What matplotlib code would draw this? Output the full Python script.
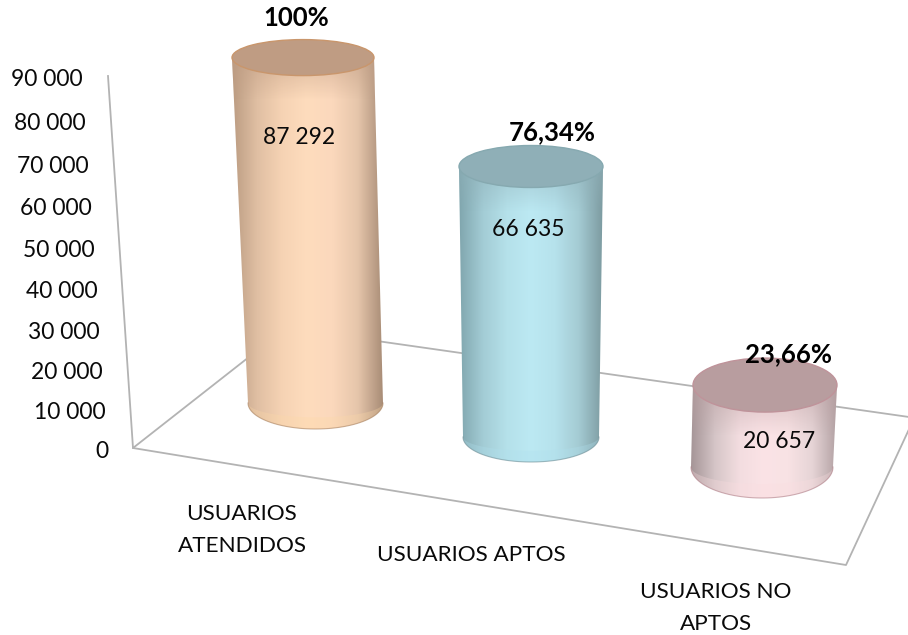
#!/usr/bin/env python3
"""3D style cylinder chart of attended users, drawn on a pixel sized axes."""

import numpy as np
import matplotlib
matplotlib.use("Agg")
import matplotlib.pyplot as plt
from matplotlib.colors import to_rgb
from matplotlib.patches import Ellipse, PathPatch, Polygon
from matplotlib.path import Path

plt.rcParams["font.family"] = ["Lato", "DejaVu Sans"]

# data
categories = ["USUARIOS\nATENDIDOS", "USUARIOS APTOS", "USUARIOS NO\nAPTOS"]
values = [87292, 66635, 20657]
value_labels = ["87 292", "66 635", "20 657"]
pct_labels = ["100%", "76,34%", "23,66%"]
y_ticks = [0, 10000, 20000, 30000, 40000, 50000, 60000, 70000, 80000, 90000]
y_tick_labels = ["0", "10 000", "20 000", "30 000", "40 000", "50 000",
                 "60 000", "70 000", "80 000", "90 000"]

# where each cylinder stands on the floor (pixels) and how it is foreshortened
base_x = [315.5, 531, 762]
base_y = [403, 437, 467]
top_x = [303, 531, 765]
base_rx = [67.5, 68, 71]
base_ry = [26, 25, 31]
top_rx = [71, 72, 72]
top_ry = [18, 21, 27]
depth = [0.96, 1.0, 1.01]

# side gradient stops (left to right), top cap, cap rim, bottom tint
side_colors = [
    ["#bb9c82", "#e0bfa3", "#f6d3b4", "#fedcbd", "#fbd8bc", "#e6c6ab", "#a98d77"],
    ["#80a6ae", "#a3ccd5", "#b5e1ea", "#bce9f3", "#b6e2ec", "#a4cbd3", "#7d9ba1"],
    ["#a59597", "#d6c6c8", "#f3dde0", "#fbe3e6", "#f8e2e4", "#e6d4d6", "#b3a2a4"],
]
cap_colors = ["#bf9c83", "#8fafb7", "#b89d9f"]
rim_colors = ["#c9966c", "#86a9b0", "#bf939a"]
bottom_colors = ["#fdd9a8", "#b0e0ee", "#fbdde0"]
edge_colors = ["#a98260", "#6f8f97", "#b07f88"]

GRID_COLOR = "#b3b3b3"


def value_to_px(v):
    # perspective of the back wall: height in pixels above the floor
    n = np.asarray(v) / 10000.0
    return 38.7 * n / (1 - 0.007 * n)


def draw_cylinder(ax, i):
    y_top = base_y[i] - depth[i] * value_to_px(values[i])
    xt, xb = top_x[i], base_x[i]
    yb = base_y[i]

    # side body with rounded bottom
    t = np.linspace(np.pi, 0, 60)
    arc_x = xb + base_rx[i] * np.cos(t)
    arc_y = yb + base_ry[i] * np.sin(t)
    xs = np.concatenate([[xt - top_rx[i]], arc_x, [xt + top_rx[i]], [xt - top_rx[i]]])
    ys = np.concatenate([[y_top], arc_y, [y_top], [y_top]])
    codes = [Path.MOVETO] + [Path.LINETO] * (len(xs) - 2) + [Path.CLOSEPOLY]
    outline = PathPatch(Path(np.column_stack([xs, ys]), codes), facecolor="none",
                        edgecolor="none")
    ax.add_patch(outline)

    # horizontal shading
    stops = np.array([to_rgb(c) for c in side_colors[i]])
    pos = np.linspace(0, 1, len(stops))
    u = np.linspace(0, 1, 256)
    grad = np.stack([np.interp(u, pos, stops[:, k]) for k in range(3)], axis=-1)[None, :, :]
    left = min(xt - top_rx[i], xb - base_rx[i])
    right = max(xt + top_rx[i], xb + base_rx[i])
    im = ax.imshow(grad, extent=(left, right, yb + base_ry[i] + 2, y_top - 2),
                   aspect="auto", interpolation="bilinear", zorder=3)
    im.set_clip_path(outline)

    # soft shadow under the cap
    shade = np.zeros((64, 1, 4))
    shade[:, :, :3] = to_rgb(cap_colors[i])
    shade[:, 0, 3] = np.linspace(0.55, 0, 64)
    sh = ax.imshow(shade, extent=(left, right, y_top + top_ry[i] + 24, y_top),
                   aspect="auto", interpolation="bilinear", zorder=3.1)
    sh.set_clip_path(outline)

    # lighter crescent where the side curves under
    inner_y = yb + base_ry[i] * 0.55 * np.sin(t)
    crescent = Polygon(np.column_stack([np.concatenate([arc_x, arc_x[::-1]]),
                                        np.concatenate([arc_y, inner_y[::-1]])]),
                       facecolor=bottom_colors[i], edgecolor="none", alpha=0.3, zorder=3.2)
    ax.add_patch(crescent)

    # rim line along the bottom
    ax.plot(arc_x, arc_y, color=edge_colors[i], lw=0.8, alpha=0.6, zorder=3.4)

    # top cap
    ax.add_patch(Ellipse((xt, y_top), 2 * top_rx[i], 2 * top_ry[i],
                         facecolor=cap_colors[i], edgecolor=rim_colors[i],
                         lw=1.0, zorder=3.6))


def main():
    fig = plt.figure(figsize=(9.08, 6.35), dpi=100)
    ax = fig.add_axes([0, 0, 1, 1])

    # back wall and floor
    ax.plot([108, 133, 286, 930], [76, 448, 328, 420], color=GRID_COLOR, lw=1.3, zorder=1)
    ax.plot([133, 846, 930], [448, 565, 384], color=GRID_COLOR, lw=1.3, zorder=1)

    for i in range(len(values)):
        draw_cylinder(ax, i)

    # value axis labels, they follow the wall
    for v, lab in zip(y_ticks, y_tick_labels):
        y = 450 - value_to_px(v)
        ax.text(83 + 25 * (y - 78) / 372.0, y + 1, lab, ha="right", va="center",
                fontsize=16.5, color="#0a0a0a", zorder=5)

    # category labels
    cat_pos = [(242, 530), (471, 555), (716, 608)]
    for lab, (x, y) in zip(categories, cat_pos):
        ax.text(x, y, lab, ha="center", va="center", fontsize=16.2,
                color="#0a0a0a", linespacing=1.72, zorder=5)

    # labels on the cylinders
    pct_pos = [(296, 18), (552, 132), (789, 354)]
    val_pos = [(299, 138), (528, 230), (779, 441)]
    for i in range(len(values)):
        ax.text(*pct_pos[i], pct_labels[i], ha="center", va="center", fontsize=18.5,
                fontweight="bold", color="#000000", zorder=6)
        ax.text(*val_pos[i], value_labels[i], ha="center", va="center", fontsize=16.5,
                color="#0a0a0a", zorder=6)

    ax.set_xlim(0, 908)
    ax.set_ylim(635, 0)
    ax.axis("off")
    fig.savefig("out.png", dpi=100)
    plt.close(fig)


if __name__ == "__main__":
    main()
